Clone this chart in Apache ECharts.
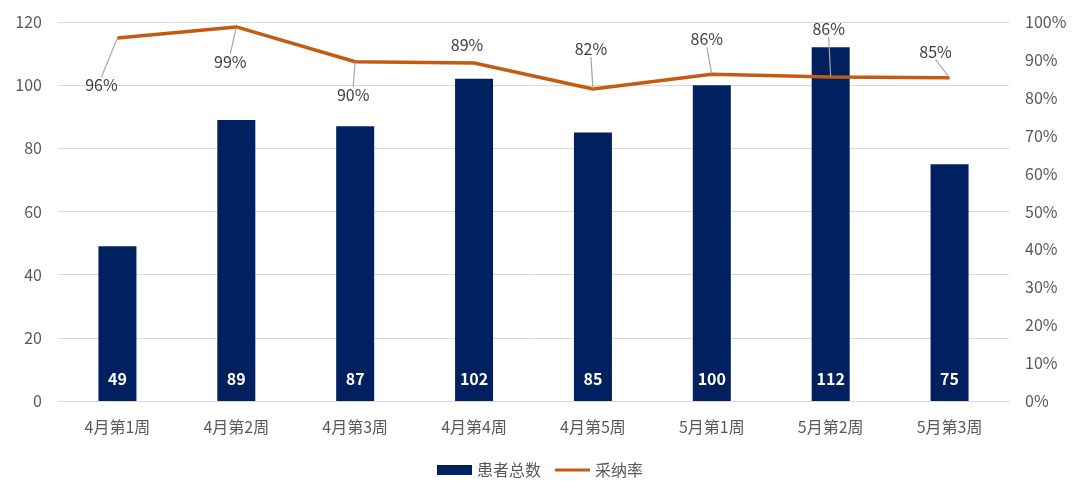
<!DOCTYPE html>
<html>
<head>
<meta charset="utf-8">
<script src="https://cdn.jsdelivr.net/npm/echarts@6/dist/echarts.min.js"></script>
<style>html,body{margin:0;padding:0;background:#fff;}#c{width:1080px;height:501px;}</style>
</head>
<body>
<div id="c"></div>
<script>
const categories = ['4月第1周','4月第2周','4月第3周','4月第4周','4月第5周','5月第1周','5月第2周','5月第3周'];
const patients = [49, 89, 87, 102, 85, 100, 112, 75];
const adoption = [0.958, 0.987, 0.895, 0.892, 0.823, 0.862, 0.855, 0.853];
const leftTicks = {min: 0, max: 120, interval: 20};
const rightTicks = {min: 0, max: 1, interval: 0.1};

// label offsets (visual placement only)
const labelOffsets = [[-16,47],[-6,35],[-2,33],[-7,-18],[-2,-40],[-5,-35],[-2,-48],[-14,-26]];

const font = '"Noto Sans CJK SC", "Noto Sans", sans-serif';
const chart = echarts.init(document.getElementById('c'));
chart.setOption({
  animation: false,
  textStyle: {fontFamily: font},
  grid: {left: 58, right: 71, top: 22, bottom: 100},
  legend: {
    bottom: 18, left: 'center', itemGap: 14, itemWidth: 35, itemHeight: 10,
    textStyle: {fontSize: 16, color: '#595959', fontFamily: font},
    data: [
      {name: '患者总数', icon: 'rect'},
      {name: '采纳率', icon: 'path://M0 0h36v3H0z'}
    ]
  },
  xAxis: {
    type: 'category', data: categories,
    axisLine: {lineStyle: {color: '#d9d9d9', width: 1}},
    axisTick: {show: false},
    axisLabel: {color: '#595959', fontSize: 16, margin: 18, fontFamily: font}
  },
  yAxis: [
    {type: 'value', min: leftTicks.min, max: leftTicks.max, interval: leftTicks.interval,
     axisLine: {show: false}, axisTick: {show: false},
     axisLabel: {color: '#595959', fontSize: 16, margin: 16, fontFamily: font},
     splitLine: {lineStyle: {color: '#d9d9d9', width: 1}}},
    {type: 'value', min: rightTicks.min, max: rightTicks.max, interval: rightTicks.interval,
     axisLine: {show: false}, axisTick: {show: false},
     axisLabel: {color: '#595959', fontSize: 16, margin: 16, fontFamily: font,
       formatter: v => Math.round(v*100) + '%'},
     splitLine: {show: false}}
  ],
  series: [
    {name: '患者总数', type: 'bar', data: patients, barWidth: 38, yAxisIndex: 0,
     itemStyle: {color: '#002060'},
     label: {show: true, position: 'insideBottom', distance: 14, color: '#fff',
       fontWeight: 'bold', fontSize: 16, fontFamily: font}},
    {name: '采纳率', type: 'line', data: adoption.map((v, i) => i === 3 ? {value: v, labelLine: {show: false}} : v),
     yAxisIndex: 1, symbol: 'circle', symbolSize: 1, showSymbol: true,
     lineStyle: {color: '#C55A11', width: 3.5}, itemStyle: {color: '#C55A11'},
     label: {show: true, position: 'inside', color: '#404040', fontSize: 16, fontFamily: font,
       formatter: p => Math.round(p.value*100) + '%'},
     labelLine: {show: true, lineStyle: {color: '#a6a6a6', width: 1.2}},
     labelLayout: p => ({dx: labelOffsets[p.dataIndex][0], dy: labelOffsets[p.dataIndex][1]})
    }
  ]
});
</script>
</body>
</html>
